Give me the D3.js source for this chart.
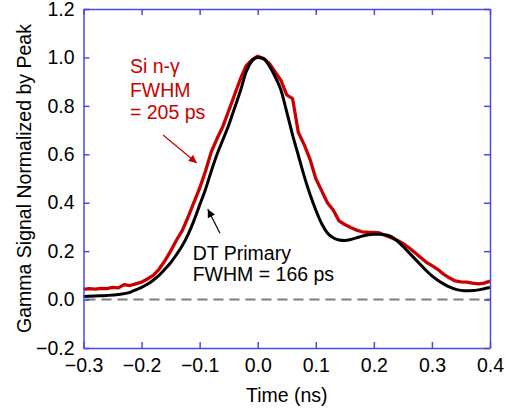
<!DOCTYPE html>
<html>
<head>
<meta charset="utf-8">
<script src="https://cdn.jsdelivr.net/npm/d3@7"></script>
<style>
  body { margin: 0; background: #fff; }
  svg { font-family: "Liberation Sans", Arial, sans-serif; }
</style>
</head>
<body>
<script>
// Data (time in ns, signal normalized to peak)
const dtTime = [-0.30, -0.28, -0.26, -0.24, -0.22, -0.21, -0.20, -0.19, -0.18, -0.17, -0.16, -0.15, -0.14, -0.13, -0.12, -0.11, -0.10, -0.09, -0.08, -0.07, -0.06, -0.05, -0.04, -0.03, -0.02, -0.01, 0.00, 0.01, 0.02, 0.03, 0.04, 0.05, 0.06, 0.07, 0.08, 0.09, 0.10, 0.11, 0.12, 0.13, 0.14, 0.15, 0.16, 0.17, 0.18, 0.19, 0.20, 0.21, 0.22, 0.23, 0.24, 0.25, 0.26, 0.27, 0.28, 0.29, 0.30, 0.31, 0.32, 0.33, 0.34, 0.35, 0.36, 0.37, 0.38, 0.39, 0.40];
const dtSignal = [0.013, 0.015, 0.017, 0.021, 0.03, 0.04, 0.05, 0.063, 0.08, 0.1, 0.125, 0.152, 0.185, 0.222, 0.268, 0.325, 0.39, 0.455, 0.53, 0.6, 0.66, 0.72, 0.79, 0.86, 0.94, 0.985, 1.0, 0.995, 0.965, 0.92, 0.865, 0.775, 0.68, 0.595, 0.51, 0.435, 0.37, 0.314, 0.275, 0.255, 0.246, 0.244, 0.248, 0.255, 0.262, 0.268, 0.27, 0.27, 0.267, 0.26, 0.243, 0.22, 0.195, 0.17, 0.145, 0.12, 0.098, 0.08, 0.065, 0.052, 0.043, 0.038, 0.036, 0.037, 0.04, 0.045, 0.05];

const siTime = [-0.30, -0.29, -0.28, -0.27, -0.26, -0.25, -0.24, -0.23, -0.22, -0.21, -0.20, -0.19, -0.18, -0.17, -0.16, -0.15, -0.14, -0.13, -0.12, -0.11, -0.10, -0.09, -0.08, -0.07, -0.06, -0.05, -0.04, -0.03, -0.02, -0.01, 0.00, 0.01, 0.02, 0.03, 0.04, 0.05, 0.06, 0.07, 0.08, 0.09, 0.10, 0.11, 0.12, 0.13, 0.14, 0.15, 0.16, 0.17, 0.18, 0.19, 0.20, 0.21, 0.22, 0.23, 0.24, 0.25, 0.26, 0.27, 0.28, 0.29, 0.30, 0.31, 0.32, 0.33, 0.34, 0.35, 0.36, 0.37, 0.38, 0.39, 0.40];
const siSignal = [0.042, 0.045, 0.043, 0.046, 0.045, 0.05, 0.048, 0.062, 0.058, 0.065, 0.072, 0.085, 0.1, 0.125, 0.16, 0.2, 0.245, 0.285, 0.34, 0.4, 0.46, 0.53, 0.61, 0.665, 0.715, 0.78, 0.845, 0.91, 0.965, 0.99, 1.005, 0.995, 0.975, 0.94, 0.905, 0.845, 0.83, 0.69, 0.64, 0.58, 0.5, 0.45, 0.4, 0.37, 0.325, 0.31, 0.298, 0.287, 0.28, 0.278, 0.277, 0.275, 0.265, 0.255, 0.245, 0.232, 0.215, 0.195, 0.175, 0.155, 0.14, 0.125, 0.105, 0.09, 0.077, 0.073, 0.072, 0.068, 0.065, 0.068, 0.076];

const xTicks = [-0.3, -0.2, -0.1, 0, 0.1, 0.2, 0.3, 0.4];
const yTicks = [-0.2, 0, 0.2, 0.4, 0.6, 0.8, 1.0, 1.2];

const w = 506;
const h = 411;
const margin = {top: 9, right: 16, bottom: 63, left: 83.5};
const axisColor = "#4a4ae6";
const red = "#c80000";
const fontSize = "19.5px";

const svg = d3.select("body")
  .append("svg")
  .attr("width", w)
  .attr("height", h);

const x = d3.scaleLinear().domain([-0.3, 0.4]).range([margin.left, w - margin.right]);
const y = d3.scaleLinear().domain([-0.2, 1.2]).range([h - margin.bottom, margin.top]);

// Zero reference line
svg.append("line")
  .attr("x1", x(-0.3) + 2)
  .attr("x2", x(0.4))
  .attr("y1", y(0))
  .attr("y2", y(0))
  .attr("stroke", "#7a7a7a")
  .attr("stroke-width", 2)
  .attr("stroke-dasharray", "10,6");

// Curves
const line = d3.line()
  .x(d => x(d[0]))
  .y(d => y(d[1]));

svg.append("path")
  .datum(siTime.map((t, i) => [t, siSignal[i]]))
  .attr("fill", "none")
  .attr("stroke", red)
  .attr("stroke-width", 3.3)
  .attr("stroke-linejoin", "round")
  .attr("d", line.curve(d3.curveLinear));

svg.append("path")
  .datum(dtTime.map((t, i) => [t, dtSignal[i]]))
  .attr("fill", "none")
  .attr("stroke", "#000")
  .attr("stroke-width", 3)
  .attr("d", line.curve(d3.curveMonotoneX));

// Axes: ticks point inward on all four sides
function styleAxis(g) {
  g.selectAll("path, line").attr("stroke", axisColor).attr("stroke-width", 1.5);
  g.selectAll("text").attr("fill", "#000").style("font-size", fontSize);
}

svg.append("g")
  .attr("transform", `translate(0,${y(-0.2)})`)
  .call(d3.axisBottom(x).tickValues(xTicks).tickSize(-6).tickSizeOuter(0).tickPadding(10).tickFormat(d3.format(".1f")))
  .call(styleAxis);

svg.append("g")
  .attr("transform", `translate(0,${y(1.2)})`)
  .call(d3.axisTop(x).tickValues(xTicks).tickSize(-6).tickSizeOuter(0).tickFormat(""))
  .call(styleAxis);

svg.append("g")
  .attr("transform", `translate(${x(-0.3)},0)`)
  .call(d3.axisLeft(y).tickValues(yTicks).tickSize(-6).tickSizeOuter(0).tickPadding(9).tickFormat(d3.format(".1f")))
  .call(styleAxis);

svg.append("g")
  .attr("transform", `translate(${x(0.4)},0)`)
  .call(d3.axisRight(y).tickValues(yTicks).tickSize(-6).tickSizeOuter(0).tickFormat(""))
  .call(styleAxis);

// Axis titles
svg.append("text")
  .attr("x", (x(-0.3) + x(0.4)) / 2)
  .attr("y", 402)
  .attr("text-anchor", "middle")
  .style("font-size", fontSize)
  .text("Time (ns)");

svg.append("text")
  .attr("transform", `translate(31,${(y(-0.2) + y(1.2)) / 2}) rotate(-90)`)
  .attr("text-anchor", "middle")
  .style("font-size", fontSize)
  .text("Gamma Signal Normalized by Peak");

// Annotations
const defs = svg.append("defs");
[["head-red", red], ["head-black", "#000"]].forEach(([id, c]) => {
  defs.append("marker")
    .attr("id", id)
    .attr("viewBox", "0 0 10 10")
    .attr("refX", 10)
    .attr("refY", 5)
    .attr("markerWidth", 11)
    .attr("markerHeight", 8)
    .attr("markerUnits", "userSpaceOnUse")
    .attr("orient", "auto")
    .append("path")
    .attr("d", "M0,0L10,5L0,10z")
    .attr("fill", c);
});

svg.append("line")
  .attr("x1", x(-0.163)).attr("y1", y(0.68))
  .attr("x2", x(-0.105)).attr("y2", y(0.564))
  .attr("stroke", red)
  .attr("stroke-width", 1.2)
  .attr("marker-end", "url(#head-red)");

svg.append("line")
  .attr("x1", x(-0.065)).attr("y1", y(0.274))
  .attr("x2", x(-0.086)).attr("y2", y(0.373))
  .attr("stroke", "#000")
  .attr("stroke-width", 1.2)
  .attr("marker-end", "url(#head-black)");

const redNote = ["Si n-\u03b3", "FWHM", "= 205 ps"];
const redNoteY = [0.934, 0.838, 0.747];
redNote.forEach((s, i) => {
  svg.append("text")
    .attr("x", x(-0.22))
    .attr("y", y(redNoteY[i]))
    .attr("fill", red)
    .style("font-size", fontSize)
    .text(s);
});

const blackNote = ["DT Primary", "FWHM = 166 ps"];
const blackNoteY = [0.162, 0.075];
blackNote.forEach((s, i) => {
  svg.append("text")
    .attr("x", x(-0.112))
    .attr("y", y(blackNoteY[i]))
    .attr("fill", "#000")
    .style("font-size", fontSize)
    .text(s);
});
</script>
</body>
</html>
